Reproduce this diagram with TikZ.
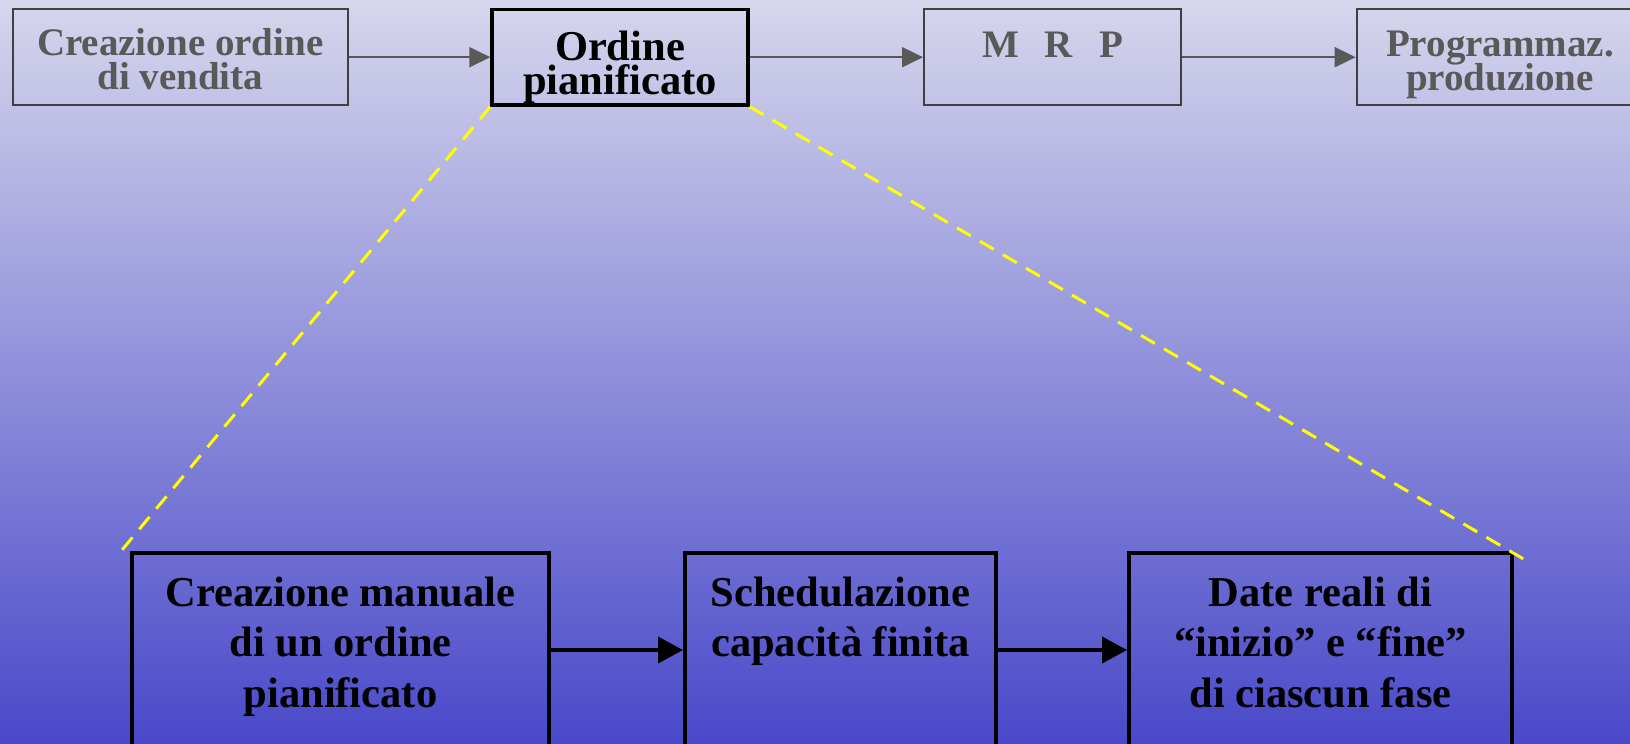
\documentclass[tikz,border=0pt]{standalone}
\usepackage{fontspec}
\setmainfont{Liberation Serif}
\usetikzlibrary{arrows.meta}
\definecolor{bgtop}{RGB}{214,214,236}
\definecolor{bgbot}{RGB}{73,73,202}
\definecolor{graytxt}{RGB}{89,89,89}
\definecolor{grayline}{RGB}{64,64,64}
\definecolor{dashyellow}{RGB}{255,255,0}
\newcommand\mlines[2]{\vtop{\baselineskip=#1\relax\lineskiplimit=-1000pt\relax\halign{\hfil##\hfil\cr#2\crcr}}}
\tikzset{
  topbox/.style={draw=grayline, line width=1.5pt, inner sep=0pt, anchor=base,
    text=graytxt, font=\fontsize{29.25pt}{25.5pt}\bfseries},
  keybox/.style={draw=black, line width=2.5pt, inner sep=0pt, anchor=base,
    text=black, font=\fontsize{31.9pt}{25.5pt}\bfseries},
  lowbox/.style={draw=black, line width=3pt, inner sep=0pt, anchor=base,
    text=black, font=\fontsize{31.9pt}{37.9pt}\bfseries},
  toparrow/.style={draw=graytxt, line width=1.5pt, -{Triangle[length=15.75pt,width=15pt]}},
  lowarrow/.style={draw=black, line width=3pt, -{Triangle[length=18.75pt,width=19.5pt]}},
  zoomline/.style={draw=dashyellow, line width=2.25pt, dash pattern=on 12pt off 8pt},
}
\begin{document}
\begin{tikzpicture}[x=0.75pt,y=-0.75pt]
\useasboundingbox (0,0) rectangle (1630,743);
\clip (0,0) rectangle (1630,743);
\shade[top color=bgtop, bottom color=bgbot] (0,0) rectangle (1630,743);

% top row
\node[topbox, minimum width=251.6pt, text height=34.2pt, text depth=37.5pt] (b1) at (180.25,55)
  {\mlines{25.5pt}{Creazione ordine\cr di vendita}};
\node[keybox, minimum width=192pt, text height=37.95pt, text depth=33.75pt] (b2) at (620,60)
  {\mlines{25.5pt}{Ordine\cr pianificato}};
\node[topbox, minimum width=192.75pt, text height=35.7pt, text depth=36pt] (b3) at (1052.5,57)
  {M\hspace{19.5pt}R\hspace{19.5pt}P};
\node[topbox, minimum width=215pt, text height=34.95pt, text depth=36.75pt] (b4) at (1500,56)
  {\mlines{25.5pt}{Programmaz.\cr produzione}};

\draw[toparrow] (b1.east) -- (b2.west);
\draw[toparrow] (b2.east) -- (b3.west);
\draw[toparrow] (b3.east) -- (b4.west);

% bottom row
\node[lowbox, minimum width=312.75pt, text height=39.75pt, text depth=105.75pt] (bA) at (340.5,606)
  {\mlines{37.9pt}{Creazione manuale\cr di un ordine\cr pianificato}};
\node[lowbox, minimum width=233.25pt, text height=39.75pt, text depth=105.75pt] (bB) at (840.5,606)
  {\mlines{37.9pt}{Schedulazione\cr capacità finita}};
\node[lowbox, minimum width=287.25pt, text height=39.75pt, text depth=105.75pt] (bC) at (1320.5,606)
  {\mlines{37.9pt}{Date reali di\cr “inizio” e “fine”\cr di ciascun fase}};

\draw[lowarrow] (bA.east) -- (bB.west);
\draw[lowarrow] (bB.east) -- (bC.west);

% zoom lines
\coordinate (cL) at (122,550);
\coordinate (cR) at (1527,561);
\draw[zoomline] (b2.south west) -- (cL);
\draw[zoomline] (b2.south east) -- (cR);
\end{tikzpicture}
\end{document}
